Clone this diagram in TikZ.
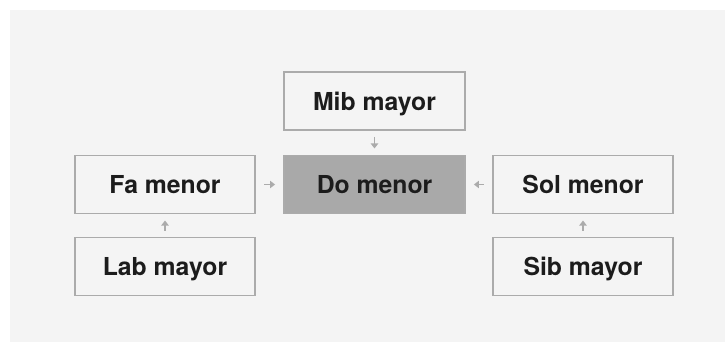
\documentclass[tikz,border=0pt]{standalone}
\usepackage{fontspec}
\setmainfont{TeX Gyre Heros}
\usepackage{xcolor}
\usetikzlibrary{arrows.meta}

\definecolor{panel}{HTML}{F4F4F4}
\definecolor{boxline}{HTML}{ABABAB}
\definecolor{keyfill}{HTML}{A9A9A9}
\definecolor{label}{HTML}{1C1C1C}

\tikzset{
  keybox/.style={draw=boxline, line width=1.4pt, fill=panel, minimum width=4.5cm,
    minimum height=1.45cm, inner sep=0pt, text=label, text depth=0pt,
    font=\fontsize{17.6}{20}\selectfont\bfseries},
  tonic/.style={keybox, fill=keyfill},
  rel/.style={draw=boxline, line width=1.4pt, -{Triangle[length=3.6pt,width=5.2pt]}}
}

\begin{document}
\begin{tikzpicture}[x=0.025cm, y=-0.025cm]
        \useasboundingbox (0,0) rectangle (725,342);
        \fill[panel] (10,10) rectangle (725,342);

        % Centre key and its neighbours
        \node[tonic] (do) at (374.5,184.5) {Do menor};
        \node[keybox] (mib) at (374.5,101) {Mib mayor};
        \node[keybox] (fa) at (165,184.5) {Fa menor};
        \node[keybox] (sol) at (583,184.5) {Sol menor};

        % Relative majors below
        \node[keybox] (lab) at (165,266.5) {Lab mayor};
        \node[keybox] (sib) at (583,266.5) {Sib mayor};

        % Arrows
        \draw[rel, shorten <=0.15cm, shorten >=0.15cm] (mib) -- (do);
        \draw[rel, shorten <=0.21cm, shorten >=0.21cm] (fa) -- (do);
        \draw[rel, shorten <=0.21cm, shorten >=0.21cm] (sol) -- (do);
        \draw[rel, shorten <=0.15cm, shorten >=0.15cm] (lab) -- (fa);
        \draw[rel, shorten <=0.15cm, shorten >=0.15cm] (sib) -- (sol);
    \end{tikzpicture}
\end{document}
